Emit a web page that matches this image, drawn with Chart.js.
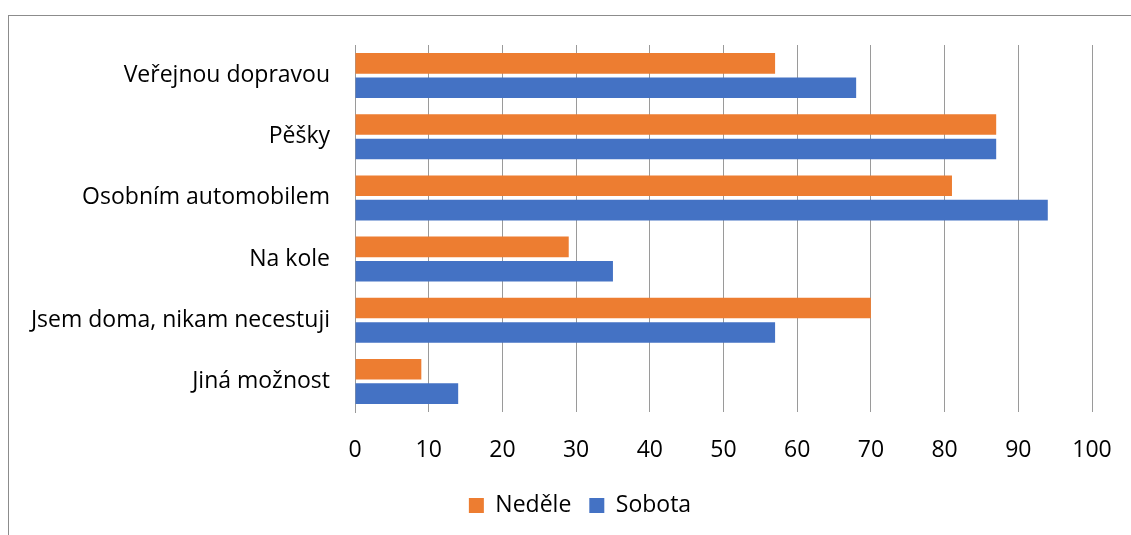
<!DOCTYPE html>
<html><head><meta charset="utf-8">
<script src="https://cdn.jsdelivr.net/npm/chart.js@4/dist/chart.umd.min.js"></script>
<style>
html,body{margin:0;padding:0;background:#fff;}
#wrap{position:relative;width:1131px;height:535px;overflow:hidden;}
#frame{position:absolute;left:8px;top:15px;width:1200px;height:600px;border-left:1px solid #8c8c8c;border-top:1px solid #8c8c8c;}
canvas{position:absolute;left:0;top:0;}
</style></head><body>
<div id="wrap"><div id="frame"></div><canvas id="c" width="1131" height="535"></canvas></div>
<script>
const categories = ["Veřejnou dopravou", "Pěšky", "Osobním automobilem", "Na kole", "Jsem doma, nikam necestuji", "Jiná možnost"];
const seriesNames = ["Neděle", "Sobota"];
const nedele = [57, 87, 81, 29, 70, 9];
const sobota = [68, 87, 94, 35, 57, 14];
const xMin = 0, xMax = 100, xStep = 10;

const FONT = "'Open Sans', sans-serif";
const gridColor = "#9a9a9a";

const shiftLegend = {
  id: 'shiftLegend',
  afterLayout(chart) {
    const lg = chart.legend;
    if (lg) { lg.left += 34; lg.right += 34; }
  }
};

new Chart(document.getElementById('c'), {
  type: 'bar',
  data: {
    labels: categories,
    datasets: [
      { label: seriesNames[0], data: nedele, backgroundColor: '#ED7D31', borderWidth: 0 },
      { label: seriesNames[1], data: sobota, backgroundColor: '#4472C4', borderWidth: 0 }
    ]
  },
  plugins: [shiftLegend],
  options: {
    indexAxis: 'y',
    responsive: false,
    animation: false,
    devicePixelRatio: 1,
    datasets: { bar: { categoryPercentage: 0.8, barPercentage: 0.84 } },
    layout: { padding: { top: 45, right: 39, left: 0, bottom: 8 } },
    plugins: {
      tooltip: { enabled: false },
      legend: {
        position: 'bottom',
        labels: {
          font: { family: FONT, size: 23 },
          color: '#000',
          boxWidth: 15, boxHeight: 15,
          padding: 18
        }
      }
    },
    scales: {
      x: {
        min: xMin, max: xMax,
        ticks: { stepSize: xStep, font: { family: FONT, size: 23 }, color: '#000', padding: 25 },
        grid: { color: gridColor, lineWidth: 1, drawTicks: false },
        border: { display: false },
        afterFit: s => { s.height = 64; s.paddingRight = 0; s.paddingLeft = 0; }
      },
      y: {
        ticks: { font: { family: FONT, size: 23 }, color: '#000', padding: 25 },
        grid: { display: false, drawTicks: false },
        border: { display: true, color: gridColor },
        afterFit: s => { s.width = 355; }
      }
    }
  }
});
</script>
</body></html>
